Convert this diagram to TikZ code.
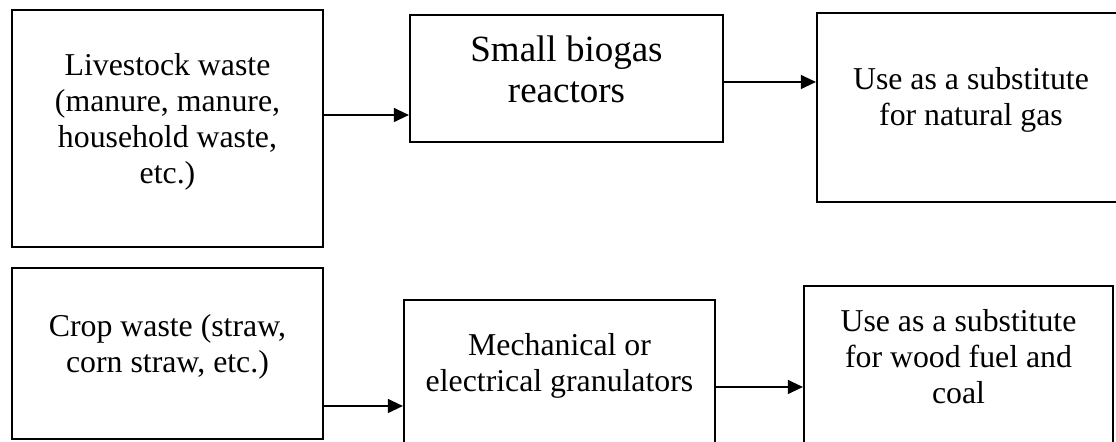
\documentclass[tikz,border=0pt]{standalone}
\usepackage{fontspec}
\setmainfont{Liberation Serif}
\usetikzlibrary{arrows.meta,positioning}
\tikzset{
  >={Triangle[length=7.5pt,width=7pt]},
  flow/.style={->,line width=0.6pt,draw=black},
  box/.style={draw=black,line width=1.1pt,inner sep=0pt},
  boxtext/.style={align=center,font=\fontsize{15.9}{18}\selectfont},
  bigtext/.style={align=center,font=\fontsize{18.5}{20.5}\selectfont}
}

\begin{document}
\begin{tikzpicture}[x=0.5pt,y=-0.5pt]
  \useasboundingbox (0,0) rectangle (1116,442);
  \clip (0,0) rectangle (1116,442);
  \node[box,minimum width=155.5pt,minimum height=118.5pt,
    label={[boxtext,yshift=3.5pt]center:{Livestock waste\\(manure, manure,\\household waste,\\etc.)}}] (live) at (167.5,128.5) {};
  \node[box,minimum width=156.5pt,minimum height=63.5pt,
    label={[bigtext,yshift=4.75pt]center:{Small biogas\\reactors}}] (biogas) at (566.5,78.5) {};
  \node[box,minimum width=154pt,minimum height=94.5pt,
    label={[boxtext,yshift=4pt]center:{Use as a substitute\\for natural gas}}] (natgas) at (971,107.5) {};
  \node[box,minimum width=155.5pt,minimum height=85.5pt,
    label={[boxtext,yshift=3.5pt]center:{Crop waste (straw,\\corn straw, etc.)}}] (crop) at (167.5,353.5) {};
  \node[box,minimum width=155.5pt,minimum height=75pt,
    label={[boxtext,yshift=4.75pt]center:{Mechanical or\\electrical granulators}}] (granul) at (559.5,375) {};
  \node[box,minimum width=154.5pt,minimum height=82pt,
    label={[boxtext,yshift=5.75pt]center:{Use as a substitute\\for wood fuel and\\coal}}] (woodfuel) at (958.5,368) {};
  \draw[flow] ([yshift=6.75pt]live.east) -- ([yshift=6.75pt]live.east -| biogas.west);
  \draw[flow] ([yshift=-1.75pt]biogas.east) -- ([yshift=-1.75pt]biogas.east -| natgas.west);
  \draw[flow] ([yshift=-26.25pt]crop.east) -- ([yshift=-26.25pt]crop.east -| granul.west);
  \draw[flow] ([yshift=-6pt]granul.east) -- ([yshift=-6pt]granul.east -| woodfuel.west);
\end{tikzpicture}
\end{document}
